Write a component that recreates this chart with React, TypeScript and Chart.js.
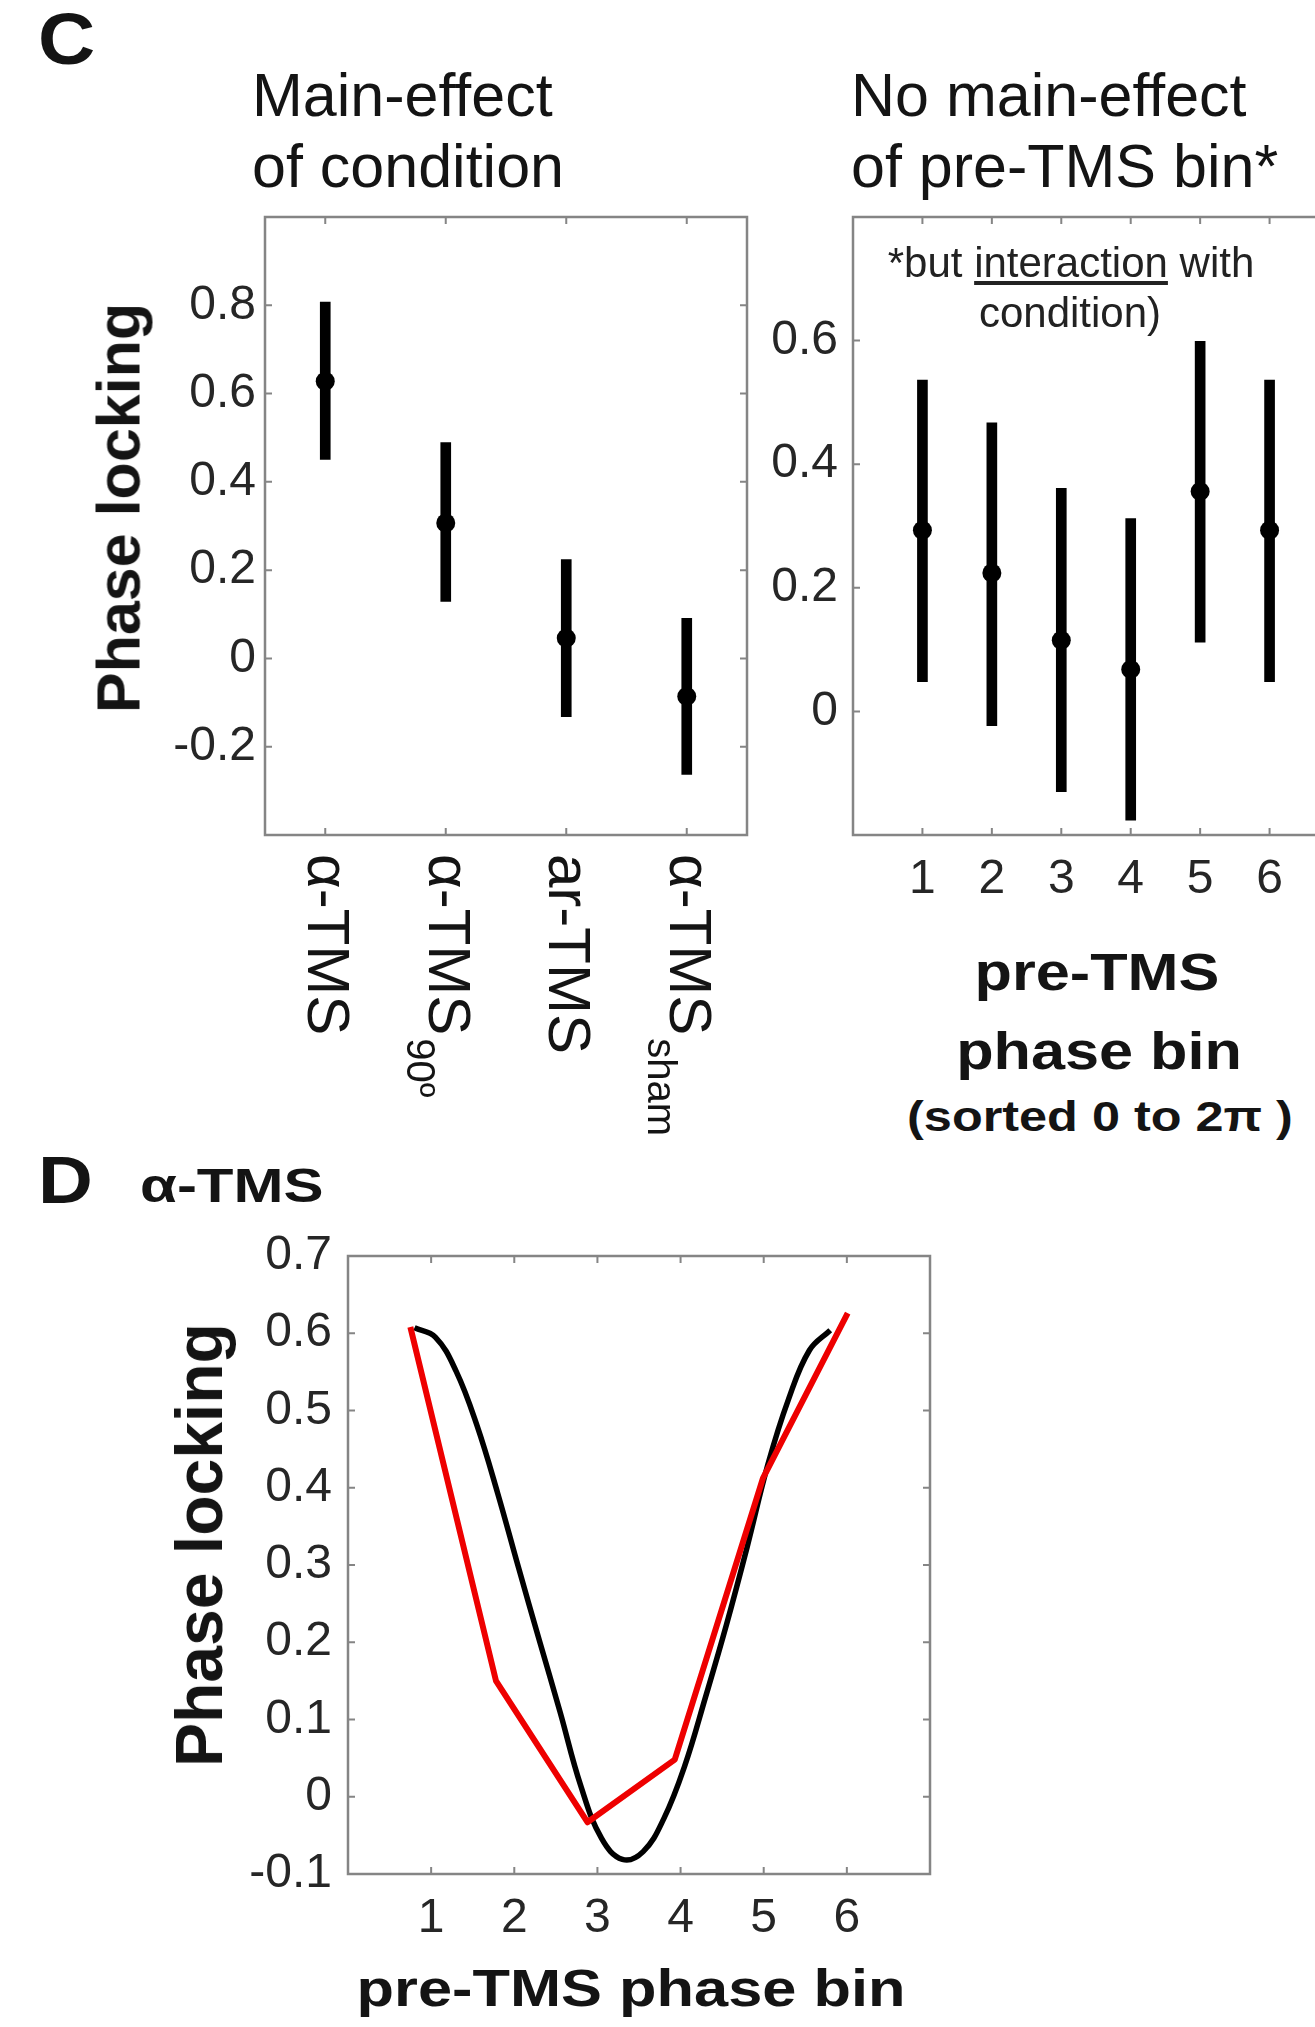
import React, { useEffect, useRef } from 'react';
import { Chart, registerables } from 'chart.js';

Chart.register(...registerables);

const FONT = "'Liberation Sans', Arial, Helvetica, sans-serif";
const INK = '#141414';
const TICK_INK = '#262626';
const AXIS_GRAY = '#858585';

// ---- Panel C, left: phase locking per condition
const CONDITION_LABELS = ['α-TMS', 'α-TMS', 'ar-TMS', 'α-TMS'];
const CONDITION_SUBSCRIPTS = ['', '90º', '', 'sham'];
const CONDITION_POS = [1, 2, 3, 4];
const CONDITION_MEAN = [0.628, 0.307, 0.046, -0.086];
const CONDITION_LOW = [0.451, 0.129, -0.132, -0.263];
const CONDITION_HIGH = [0.807, 0.489, 0.224, 0.091];
const CONDITION_Y_TICKS = [-0.2, 0, 0.2, 0.4, 0.6, 0.8];

// ---- Panel C, right: phase locking per pre-TMS phase bin
const BIN_POS = [1, 2, 3, 4, 5, 6];
const BIN_MEAN = [0.293, 0.224, 0.115, 0.068, 0.356, 0.293];
const BIN_LOW = [0.048, -0.023, -0.13, -0.176, 0.112, 0.048];
const BIN_HIGH = [0.536, 0.467, 0.361, 0.312, 0.599, 0.536];
const BIN_Y_TICKS = [0, 0.2, 0.4, 0.6];

// ---- Panel D: alpha-TMS, observed (red) and fitted (black)
const D_X_TICKS = [1, 2, 3, 4, 5, 6];
const D_Y_TICKS = [-0.1, 0, 0.1, 0.2, 0.3, 0.4, 0.5, 0.6, 0.7];
const OBSERVED_X = [0.75, 1.78, 2.88, 3.93, 4.99, 6.01];
const OBSERVED_Y = [0.608, 0.15, -0.033, 0.048, 0.412, 0.626];
const FIT_X = [0.8, 1.05, 1.3, 1.55, 1.8, 2.05, 2.3, 2.55, 2.8, 3.05, 3.3, 3.55, 3.8, 4.05, 4.3, 4.55, 4.8, 5.05, 5.3, 5.55, 5.8];
const FIT_Y = [0.607, 0.595, 0.551, 0.481, 0.393, 0.297, 0.203, 0.11, 0.014, -0.054, -0.081, -0.071, -0.028, 0.04, 0.129, 0.222, 0.323, 0.43, 0.515, 0.578, 0.604];

const fmt = (v: number) => {
  const r = Math.round(v * 10) / 10;
  return r === 0 ? '0' : String(r);
};

const boxPlugin = {
  id: 'matlabBox',
  beforeDatasetsDraw(chart: any) {
    const { ctx, chartArea } = chart;
    const { left, top, right, bottom } = chartArea;
    const xs = chart.scales.x;
    const ys = chart.scales.y;
    const L = 7;
    ctx.save();
    ctx.strokeStyle = AXIS_GRAY;
    ctx.lineWidth = 2.5;
    ctx.strokeRect(left, top, right - left, bottom - top);
    ctx.lineWidth = 2;
    ctx.beginPath();
    xs.ticks.forEach((t: any) => {
      const px = xs.getPixelForValue(t.value);
      ctx.moveTo(px, bottom);
      ctx.lineTo(px, bottom - L);
      ctx.moveTo(px, top);
      ctx.lineTo(px, top + L);
    });
    ys.ticks.forEach((t: any) => {
      const py = ys.getPixelForValue(t.value);
      ctx.moveTo(left, py);
      ctx.lineTo(left + L, py);
      ctx.moveTo(right, py);
      ctx.lineTo(right - L, py);
    });
    ctx.stroke();
    ctx.restore();
  },
};

const conditionLabelPlugin = {
  id: 'conditionLabels',
  afterDraw(chart: any) {
    const { ctx, chartArea } = chart;
    const xs = chart.scales.x;
    ctx.save();
    ctx.fillStyle = INK;
    CONDITION_LABELS.forEach((lab, i) => {
      const x = xs.getPixelForValue(CONDITION_POS[i]);
      const y = chartArea.bottom + 19;
      ctx.save();
      ctx.translate(x, y);
      ctx.rotate(Math.PI / 2);
      ctx.font = `60px ${FONT}`;
      ctx.textAlign = 'left';
      ctx.textBaseline = 'alphabetic';
      ctx.fillText(lab, 0, 17);
      const w = ctx.measureText(lab).width;
      if (CONDITION_SUBSCRIPTS[i]) {
        ctx.font = `40px ${FONT}`;
        ctx.fillText(CONDITION_SUBSCRIPTS[i], w + 3, 39);
      }
      ctx.restore();
    });
    ctx.restore();
  },
};

function yScale(min: number, max: number, ticks: number[], width: number, padding: number) {
  return {
    type: 'linear',
    position: 'left',
    min,
    max,
    afterBuildTicks: (s: any) => {
      s.ticks = ticks.map((v) => ({ value: v }));
    },
    afterFit: (s: any) => {
      s.width = width;
      s.paddingTop = 0;
      s.paddingBottom = 0;
      s.paddingLeft = 0;
      s.paddingRight = 0;
    },
    grid: { display: false, drawTicks: false },
    border: { display: false },
    ticks: {
      autoSkip: false,
      padding,
      color: TICK_INK,
      font: { family: FONT, size: 48 },
      callback: (v: any) => fmt(Number(v)),
    },
  };
}

function xScale(min: number, max: number, ticks: number[], height: number, showLabels: boolean, padding: number) {
  return {
    type: 'linear',
    position: 'bottom',
    min,
    max,
    offset: false,
    afterBuildTicks: (s: any) => {
      s.ticks = ticks.map((v) => ({ value: v }));
    },
    afterFit: (s: any) => {
      s.height = height;
      s.paddingTop = 0;
      s.paddingBottom = 0;
      s.paddingLeft = 0;
      s.paddingRight = 0;
    },
    grid: { display: false, drawTicks: false },
    border: { display: false },
    ticks: {
      display: showLabels,
      autoSkip: false,
      maxRotation: 0,
      minRotation: 0,
      padding,
      color: TICK_INK,
      font: { family: FONT, size: 48 },
      callback: (v: any) => String(v),
    },
  };
}

const baseOptions = {
  responsive: false,
  animation: false,
  events: [],
  plugins: { legend: { display: false }, tooltip: { enabled: false }, title: { display: false } },
};

function errorBarConfig(
  pos: number[], mean: number[], low: number[], high: number[],
  xmin: number, xmax: number, yTicks: number[], ymin: number, ymax: number,
  yWidth: number, yPad: number, xHeight: number, showX: boolean, padding: any, barW: number, extraPlugins: any[]
): any {
  return {
    type: 'bar',
    data: {
      datasets: [
        {
          type: 'line',
          data: pos.map((x, i) => ({ x, y: mean[i] })),
          showLine: false,
          pointRadius: 9.5,
          pointHoverRadius: 9.5,
          pointBackgroundColor: '#000',
          pointBorderColor: '#000',
          pointBorderWidth: 0,
        },
        {
          type: 'bar',
          data: pos.map((x, i) => ({ x, y: [low[i], high[i]] })),
          backgroundColor: '#000',
          borderWidth: 0,
          barThickness: barW,
        },
      ],
    },
    options: {
      ...baseOptions,
      layout: { padding },
      scales: {
        x: xScale(xmin, xmax, pos, xHeight, showX, 16),
        y: yScale(ymin, ymax, yTicks, yWidth, yPad),
      },
    },
    plugins: [boxPlugin, ...extraPlugins],
  };
}

const Txt = ({ x, base, size, bold, children, align = 'left', sx = 1, color = INK }: any) => {
  const isCenter = align === 'center';
  return (
    <div
      style={{
        position: 'absolute',
        left: x,
        top: base - 0.8465 * size,
        fontFamily: FONT,
        fontSize: size,
        fontWeight: bold ? 700 : 400,
        lineHeight: `${size}px`,
        whiteSpace: 'nowrap',
        color,
        transformOrigin: isCenter ? 'center' : 'left center',
        transform: isCenter ? `translateX(-50%) scaleX(${sx})` : `scaleX(${sx})`,
      }}
    >
      {children}
    </div>
  );
};

const VTxt = ({ cx, cy, size, children }: any) => (
  <div
    style={{
      position: 'absolute',
      left: cx,
      top: cy,
      fontFamily: FONT,
      fontSize: size,
      fontWeight: 700,
      lineHeight: `${size}px`,
      whiteSpace: 'nowrap',
      color: INK,
      transform: 'translate(-50%, -50%) rotate(-90deg)',
    }}
  >
    {children}
  </div>
);

export default function App() {
  const c1 = useRef<HTMLCanvasElement>(null);
  const c2 = useRef<HTMLCanvasElement>(null);
  const c3 = useRef<HTMLCanvasElement>(null);

  useEffect(() => {
    const charts: Chart[] = [];
    charts.push(
      new Chart(
        c1.current as HTMLCanvasElement,
        errorBarConfig(
          CONDITION_POS, CONDITION_MEAN, CONDITION_LOW, CONDITION_HIGH,
          0.5, 4.5, CONDITION_Y_TICKS, -0.4, 1.0,
          265, 9, 325, false, { left: 0, top: 17, right: 53, bottom: 0 }, 10, [conditionLabelPlugin]
        )
      )
    );
    charts.push(
      new Chart(
        c2.current as HTMLCanvasElement,
        errorBarConfig(
          BIN_POS, BIN_MEAN, BIN_LOW, BIN_HIGH,
          0, 7, BIN_Y_TICKS, -0.2, 0.8,
          113, 15, 125, true, { left: 0, top: 17, right: 21, bottom: 0 }, 10, []
        )
      )
    );
    charts.push(
      new Chart(c3.current as HTMLCanvasElement, {
        type: 'line',
        data: {
          datasets: [
            {
              data: OBSERVED_X.map((x, i) => ({ x, y: OBSERVED_Y[i] })),
              borderColor: 'rgb(238, 0, 0)',
              borderWidth: 6,
              pointRadius: 0,
              tension: 0,
              fill: false,
              borderJoinStyle: 'round',
            },
            {
              data: FIT_X.map((x, i) => ({ x, y: FIT_Y[i] })),
              borderColor: '#000',
              borderWidth: 5.5,
              pointRadius: 0,
              tension: 0.4,
              fill: false,
            },
          ],
        },
        options: {
          ...baseOptions,
          layout: { padding: { left: 0, top: 36, right: 70, bottom: 0 } },
          scales: {
            x: xScale(0, 7, D_X_TICKS, 153, true, 16),
            y: yScale(-0.1, 0.7, D_Y_TICKS, 348, 16),
          },
        } as any,
        plugins: [boxPlugin],
      } as any)
    );
    return () => charts.forEach((c) => c.destroy());
  }, []);

  return (
    <div
      style={{
        position: 'absolute',
        left: 0,
        top: 0,
        width: 1315,
        height: 2027,
        overflow: 'hidden',
        background: '#fff',
      }}
    >
      <canvas ref={c1} width={800} height={960} style={{ position: 'absolute', left: 0, top: 200 }} />
      <canvas ref={c2} width={620} height={760} style={{ position: 'absolute', left: 740, top: 200 }} />
      <canvas ref={c3} width={1000} height={807} style={{ position: 'absolute', left: 0, top: 1220 }} />

      <Txt x={38} base={64} size={72} bold sx={1.1}>C</Txt>
      <Txt x={252} base={117} size={61}>Main-effect</Txt>
      <Txt x={252} base={188} size={61}>of condition</Txt>
      <Txt x={851} base={117} size={61}>No main-effect</Txt>
      <Txt x={851} base={188} size={61}>of pre-TMS bin*</Txt>

      <Txt x={1071} base={278} size={42} align="center" color="#222">
        *but <span style={{ textDecoration: 'underline', textUnderlineOffset: 4 }}>interaction</span> with
      </Txt>
      <Txt x={1070} base={328} size={42} align="center" color="#222">condition)</Txt>

      <VTxt cx={119} cy={508} size={61}>Phase locking</VTxt>

      <Txt x={1097} base={990} size={51} bold align="center" sx={1.2}>pre-TMS</Txt>
      <Txt x={1099} base={1069} size={51} bold align="center" sx={1.2}>phase bin</Txt>
      <Txt x={1100} base={1132} size={42} bold align="center" sx={1.2}>(sorted 0 to 2π )</Txt>

      <Txt x={38} base={1203} size={66} bold sx={1.15}>D</Txt>
      <Txt x={140} base={1203} size={48} bold sx={1.25}>α-TMS</Txt>

      <VTxt cx={199} cy={1545} size={66}>Phase locking</VTxt>
      <Txt x={631} base={2006} size={52} bold align="center" sx={1.18}>pre-TMS phase bin</Txt>
    </div>
  );
}
